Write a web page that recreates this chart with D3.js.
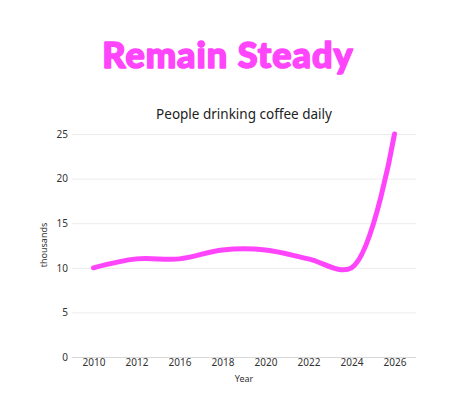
<!DOCTYPE html>
<html>
<head>
<meta charset="utf-8">
<script src="https://cdn.jsdelivr.net/npm/d3@7"></script>
<style>
  body { margin: 0; background: #fff; }
  svg { display: block; }
</style>
</head>
<body>
<figure id="chart" style="margin:0"></figure>
<script>
// chart data
const years = ["2010", "2012", "2016", "2018", "2020", "2022", "2024", "2026"];
const drinkers = [10, 11, 11, 12, 12, 11, 10, 25];
const yTicks = [0, 5, 10, 15, 20, 25];

const W = 475, H = 398;
const plotLeft = 72, plotRight = 416, plotTop = 134, plotBottom = 357;
const pink = "#ff45fb";

const svg = d3.select("#chart")
  .append("svg")
  .attr("width", W)
  .attr("height", H);

// big headline
svg.append("text")
  .attr("x", 228)
  .attr("y", 68)
  .attr("text-anchor", "middle")
  .attr("font-family", "Lato, sans-serif")
  .attr("font-weight", 900)
  .attr("font-size", 36)
  .attr("letter-spacing", 1)
  .attr("fill", pink)
  .attr("stroke", pink)
  .attr("stroke-width", 1.6)
  .attr("stroke-linejoin", "round")
  .text("Remain Steady");

svg.append("text")
  .attr("x", 244)
  .attr("y", 119)
  .attr("text-anchor", "middle")
  .attr("font-family", "'Noto Sans', sans-serif")
  .attr("font-size", 13.5)
  .attr("fill", "#222")
  .text("People drinking coffee daily");

const x = d3.scalePoint()
  .domain(years)
  .range([plotLeft, plotRight])
  .padding(0.5);

const y = d3.scaleLinear()
  .domain([0, 25])
  .range([plotBottom, plotTop]);

// gridlines
svg.append("g")
  .selectAll("line")
  .data(yTicks)
  .enter()
  .append("line")
  .attr("x1", plotLeft)
  .attr("x2", plotRight)
  .attr("y1", d => y(d) + 0.5)
  .attr("y2", d => y(d) + 0.5)
  .attr("stroke", d => d === 0 ? "#d8d8d8" : "#ececec")
  .attr("stroke-width", 1);

const yAxis = svg.append("g")
  .attr("transform", "translate(" + (plotLeft - 4) + ",0)")
  .call(d3.axisLeft(y).tickValues(yTicks).tickSize(0).tickPadding(0));
yAxis.select(".domain").remove();
yAxis.selectAll("text")
  .attr("font-family", "'Noto Sans', sans-serif")
  .attr("font-size", 10)
  .attr("fill", "#333");

const xAxis = svg.append("g")
  .attr("transform", "translate(0," + plotBottom + ")")
  .call(d3.axisBottom(x).tickSize(0).tickPadding(2));
xAxis.select(".domain").remove();
xAxis.selectAll("text")
  .attr("font-family", "'Noto Sans', sans-serif")
  .attr("font-size", 10)
  .attr("fill", "#333");

svg.append("text")
  .attr("x", 244)
  .attr("y", 382)
  .attr("text-anchor", "middle")
  .attr("font-family", "'Noto Sans', sans-serif")
  .attr("font-size", 9)
  .attr("fill", "#333")
  .text("Year");

svg.append("text")
  .attr("transform", "translate(47,245)rotate(-90)")
  .attr("text-anchor", "middle")
  .attr("font-family", "'Noto Sans', sans-serif")
  .attr("font-size", 9)
  .attr("fill", "#333")
  .text("thousands");

const line = d3.line()
  .x((d, i) => x(years[i]))
  .y(d => y(d))
  .curve(d3.curveCatmullRom.alpha(0.5));

svg.append("path")
  .datum(drinkers)
  .attr("d", line)
  .attr("fill", "none")
  .attr("stroke", pink)
  .attr("stroke-width", 5)
  .attr("stroke-linecap", "round")
  .attr("stroke-linejoin", "round");
</script>
</body>
</html>
